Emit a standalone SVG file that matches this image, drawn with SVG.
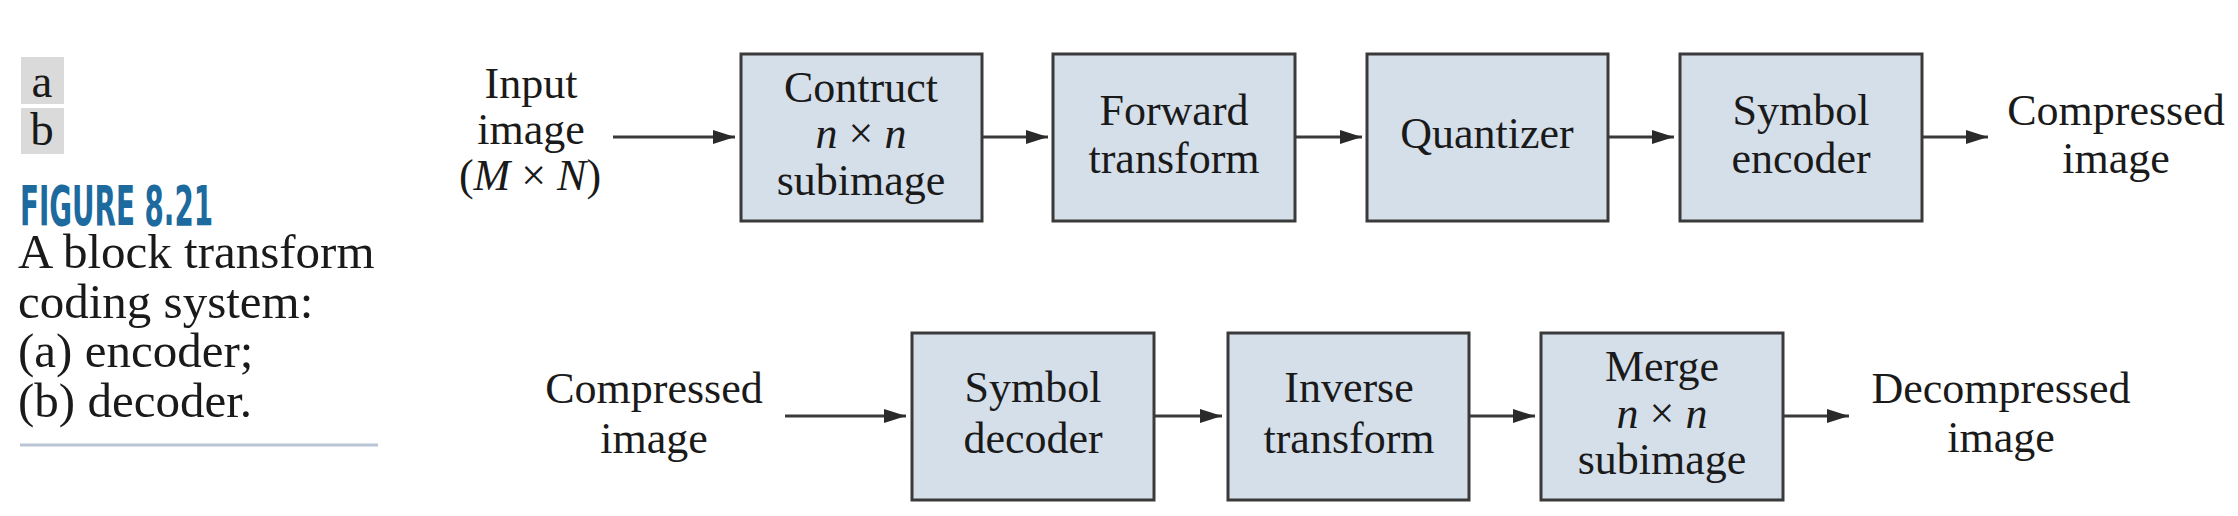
<svg xmlns="http://www.w3.org/2000/svg" width="2238" height="516" viewBox="0 0 2238 516">
<defs>
<style>
.t{font-family:"Liberation Serif","Times New Roman",serif;font-size:44px;fill:#1a1a1a;text-anchor:middle}
.c{font-family:"Liberation Serif","Times New Roman",serif;font-size:49px;fill:#1a1a1a}
.ab{font-family:"Liberation Serif","Times New Roman",serif;font-size:47px;fill:#1a1a1a;text-anchor:middle}
.i{font-style:italic}
.box{fill:#d5dfea;stroke:#3a3a3a;stroke-width:3}
.ln{stroke:#3a3a3a;stroke-width:3;fill:none}
</style>
<marker id="ah" markerUnits="userSpaceOnUse" markerWidth="24" markerHeight="14" refX="22" refY="7" orient="auto">
<path d="M0,0 L22,7 L0,14 Z" fill="#2a2a2a"/>
</marker>
</defs>
<rect width="2238" height="516" fill="#ffffff"/>

<g id="caption">
<rect x="21" y="57" width="43" height="47" fill="#dadada"/>
<rect x="21" y="108" width="43" height="46" fill="#dadada"/>
<text class="ab" x="42" y="97">a</text>
<text class="ab" x="42" y="145">b</text>
<text x="20" y="225" font-family="'Liberation Sans Narrow','DejaVu Sans Condensed','Liberation Sans',sans-serif" font-weight="bold" font-size="55" fill="#1c6a9e" textLength="193" lengthAdjust="spacingAndGlyphs">FIGURE 8.21</text>
<text class="c" x="18" y="268">A block transform</text>
<text class="c" x="18" y="318">coding system:</text>
<text class="c" x="18" y="367">(a) encoder;</text>
<text class="c" x="18" y="417">(b) decoder.</text>
<line x1="20" y1="445" x2="378" y2="445" stroke="#b9c5d5" stroke-width="3"/>
</g>

<g id="connectors">
<line class="ln" x1="613" y1="137" x2="735" y2="137" marker-end="url(#ah)"/>
<line class="ln" x1="982" y1="137" x2="1048" y2="137" marker-end="url(#ah)"/>
<line class="ln" x1="1295" y1="137" x2="1362" y2="137" marker-end="url(#ah)"/>
<line class="ln" x1="1608" y1="137" x2="1674" y2="137" marker-end="url(#ah)"/>
<line class="ln" x1="1922" y1="137" x2="1988" y2="137" marker-end="url(#ah)"/>
<line class="ln" x1="785" y1="416" x2="906" y2="416" marker-end="url(#ah)"/>
<line class="ln" x1="1154" y1="416" x2="1222" y2="416" marker-end="url(#ah)"/>
<line class="ln" x1="1469" y1="416" x2="1535" y2="416" marker-end="url(#ah)"/>
<line class="ln" x1="1783" y1="416" x2="1849" y2="416" marker-end="url(#ah)"/>
</g>

<g id="input-label">
<text class="t" x="531" y="98">Input</text>
<text class="t" x="531" y="144">image</text>
<text class="t" x="530" y="190">(<tspan class="i">M</tspan> × <tspan class="i">N</tspan>)</text>
</g>

<g id="construct">
<rect class="box" x="741" y="54" width="241" height="167"/>
<text class="t" x="861" y="102">Contruct</text>
<text class="t" x="861" y="148"><tspan class="i">n</tspan> × <tspan class="i">n</tspan></text>
<text class="t" x="861" y="195">subimage</text>
</g>

<g id="forward">
<rect class="box" x="1053" y="54" width="242" height="167"/>
<text class="t" x="1174" y="125">Forward</text>
<text class="t" x="1174" y="173">transform</text>
</g>

<g id="quantizer">
<rect class="box" x="1367" y="54" width="241" height="167"/>
<text class="t" x="1487" y="148">Quantizer</text>
</g>

<g id="symbol-encoder">
<rect class="box" x="1680" y="54" width="242" height="167"/>
<text class="t" x="1801" y="125">Symbol</text>
<text class="t" x="1801" y="173">encoder</text>
</g>

<g id="compressed-out">
<text class="t" x="2116" y="125">Compressed</text>
<text class="t" x="2116" y="173">image</text>
</g>

<g id="compressed-in">
<text class="t" x="654" y="403">Compressed</text>
<text class="t" x="654" y="453">image</text>
</g>

<g id="symbol-decoder">
<rect class="box" x="912" y="333" width="242" height="167"/>
<text class="t" x="1033" y="402">Symbol</text>
<text class="t" x="1033" y="453">decoder</text>
</g>

<g id="inverse">
<rect class="box" x="1228" y="333" width="241" height="167"/>
<text class="t" x="1349" y="402">Inverse</text>
<text class="t" x="1349" y="453">transform</text>
</g>

<g id="merge">
<rect class="box" x="1541" y="333" width="242" height="167"/>
<text class="t" x="1662" y="381">Merge</text>
<text class="t" x="1662" y="428"><tspan class="i">n</tspan> × <tspan class="i">n</tspan></text>
<text class="t" x="1662" y="474">subimage</text>
</g>

<g id="decompressed-out">
<text class="t" x="2001" y="403">Decompressed</text>
<text class="t" x="2001" y="452">image</text>
</g>
</svg>
